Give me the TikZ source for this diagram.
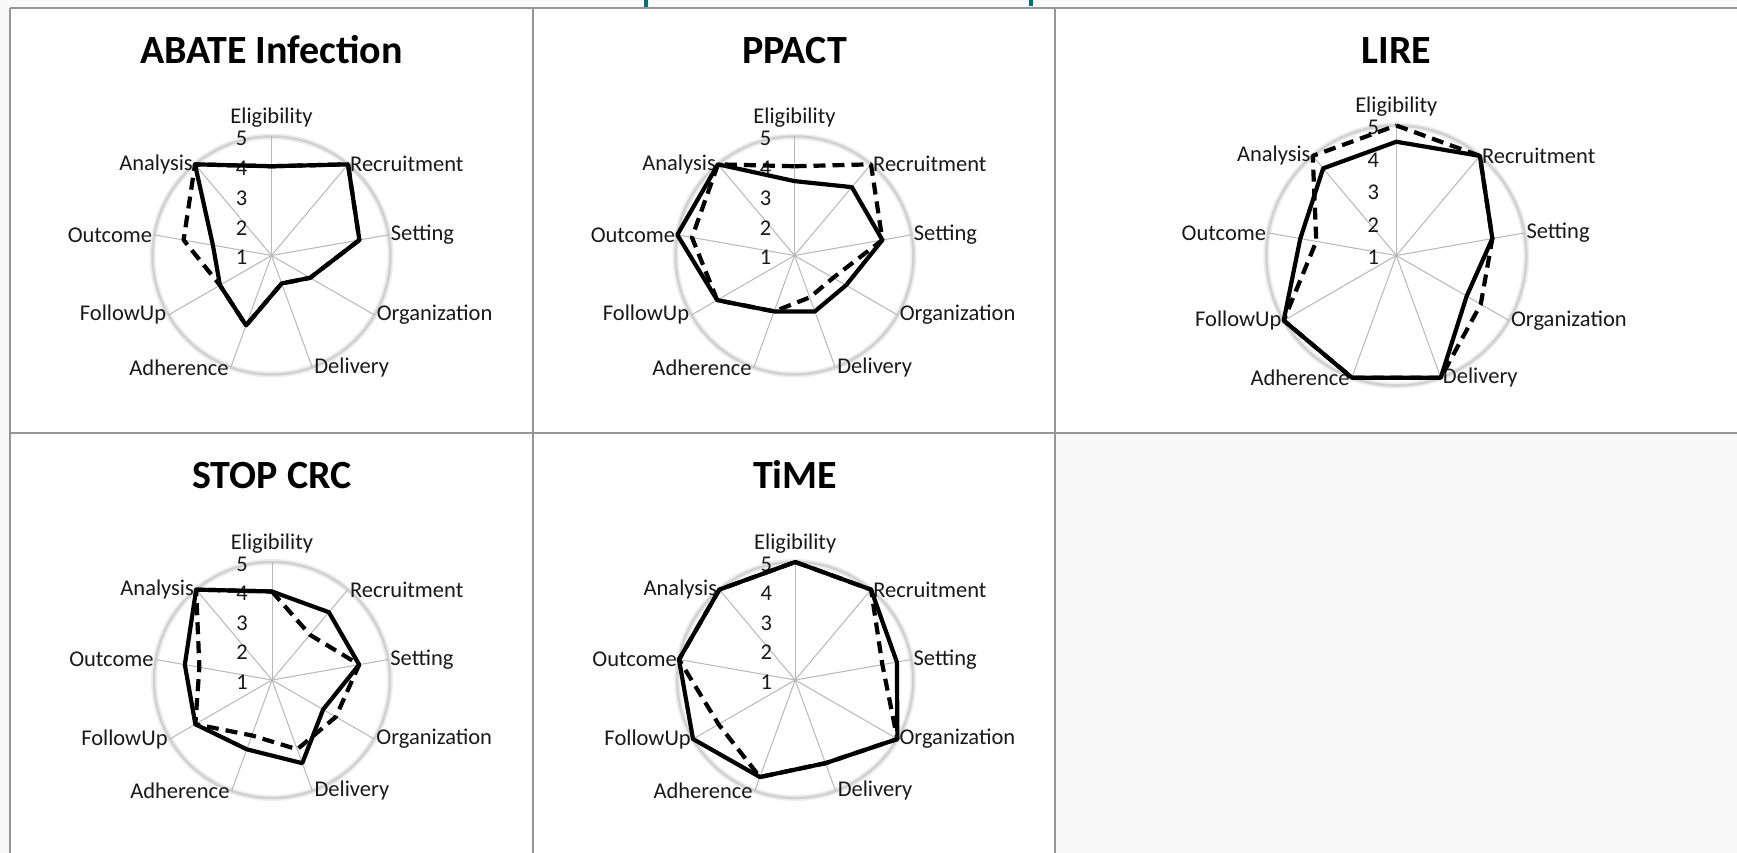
\documentclass[tikz,border=0pt]{standalone}
\usepackage{fontspec}
\setmainfont{Carlito}
\definecolor{gridgray}{RGB}{150,150,150}
\definecolor{pagegray}{RGB}{249,249,249}
\definecolor{captionteal}{RGB}{0,112,128}
\tikzset{>=stealth,
  panel/.style={fill=white},
  gridline/.style={draw=gridgray, line width=2.2},
  ringglow/.style={draw=black!7, line width=6},
  ring/.style={draw=black!18, line width=2.5},
  spoke/.style={draw=black!28, line width=1},
  axislab/.style={font=\fontsize{22.5}{25}\selectfont, text=black!90, inner sep=2},
  ticklab/.style={font=\fontsize{22.5}{25}\selectfont, text=black!90, inner sep=0},
  charttitle/.style={font=\fontsize{40}{44}\selectfont\bfseries, inner sep=0},
  solidline/.style={draw=black, line width=4.2, line join=round},
  dashline/.style={draw=black, line width=4.2, line join=round, dash pattern=on 12 off 7}
}
% #1 name, #2 cx, #3 cy, #4 radius of 5, #5 tick offset, #6 title, #7 solid, #8 dashed
\newcommand{\radar}[8]{%
  \begin{scope}[shift={(#2,#3)}]
    \coordinate (#1-c) at (0,0);
    \draw[ringglow] (#1-c) circle (#4);
    \draw[ring] (#1-c) circle (#4);
    \foreach \ang [count=\i] in {90,50,10,-30,-70,-110,-150,170,130}
      \draw[spoke] (#1-c) -- (\ang:#4) coordinate (#1-a\i);
    \node[axislab, anchor=base] (#1-l1) at ([yshift=13]#1-a1) {Eligibility};
    \node[axislab, anchor=west] (#1-l2) at (#1-a2) {Recruitment};
    \node[axislab, anchor=west] (#1-l3) at (#1-a3) {Setting};
    \node[axislab, anchor=west] (#1-l4) at (#1-a4) {Organization};
    \node[axislab, anchor=west] (#1-l5) at (#1-a5) {Delivery};
    \node[axislab, anchor=east] (#1-l6) at (#1-a6) {Adherence};
    \node[axislab, anchor=east] (#1-l7) at (#1-a7) {FollowUp};
    \node[axislab, anchor=east] (#1-l8) at (#1-a8) {Outcome};
    \node[axislab, anchor=east] (#1-l9) at (#1-a9) {Analysis};
    \foreach \t in {1,...,5}
      \node[ticklab] (#1-t\t) at ({-#5},{#4*(\t-1)/4-2}) {\t};
    \foreach \v [count=\i] in {#8}
      \coordinate (#1-d\i) at ({90-40*(\i-1)}:{#4*(\v-1)/4});
    \foreach \v [count=\i] in {#7}
      \coordinate (#1-s\i) at ({90-40*(\i-1)}:{#4*(\v-1)/4});
    \draw[dashline] (#1-d1) -- (#1-d2) -- (#1-d3) -- (#1-d4) -- (#1-d5)
      -- (#1-d6) -- (#1-d7) -- (#1-d8) -- (#1-d9) -- cycle;
    \draw[solidline] (#1-s1) -- (#1-s2) -- (#1-s3) -- (#1-s4) -- (#1-s5)
      -- (#1-s6) -- (#1-s7) -- (#1-s8) -- (#1-s9) -- cycle;
    \node[charttitle, anchor=base] (#1-title) at (0,192) {#6};
  \end{scope}}

\begin{document}
\begin{tikzpicture}[x=1pt,y=1pt]
\useasboundingbox (0,0) rectangle (1737,-853);
\fill[pagegray] (0,0) rectangle (1737,-853);
% panels
\fill[panel] (10,-8) rectangle (1745,-432.7);
\fill[panel] (10,-432.7) rectangle (1055.3,-860);
\draw[gridline] (10,-8) -- (1745,-8);
\draw[gridline] (10,-432.7) -- (1745,-432.7);
\draw[gridline] (10,-8) -- (10,-860);
\draw[gridline] (532.7,-8) -- (532.7,-860);
\draw[gridline] (1055.3,-8) -- (1055.3,-860);
% cut caption above
\fill[captionteal] (644,0) rectangle (648,-7);
\fill[captionteal] (1029,0) rectangle (1033,-6);

\radar{abate}{271.5}{-255.5}{119}{30}{ABATE Infection}
  {4,5,4,2.5,2,3.5,3,3,5}{4,5,4,2.5,2,3.5,3,4,5}
\radar{ppact}{794.5}{-255.5}{119}{29}{PPACT}
  {3.5,4,4,3,3,3,4,5,5}{4,5,4,2.5,2.5,3,4,4.5,5}
\radar{lire}{1396.3}{-255.5}{130}{23}{LIRE}
  {4.5,5,4,3.5,5,5,5,4,4.5}{5,5,4,4,5,5,5,3.5,5}
\radar{stop}{272}{-680}{118}{30}{STOP CRC}
  {4,4,4,3,4,3.5,4,4,5}{4,3,4,3.5,3.5,3,4,3.5,5}
\radar{time}{795.2}{-680}{118}{29}{TiME}
  {5,5,4.5,5,4,4.5,5,5,5}{5,5,4,5,4,4.5,4,5,5}
\end{tikzpicture}
\end{document}
